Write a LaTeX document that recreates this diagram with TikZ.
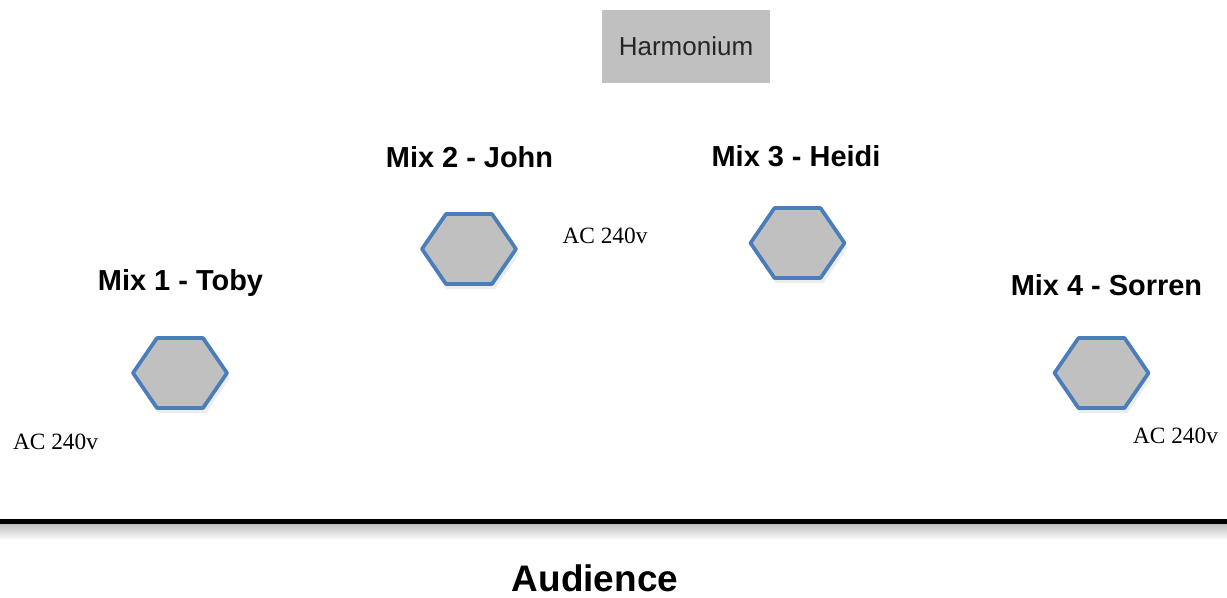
\documentclass[tikz,border=0pt]{standalone}
\usepackage{fontspec}
\setmainfont{Liberation Serif}
\setsansfont{Liberation Sans}
\usetikzlibrary{calc}
\definecolor{boxgray}{HTML}{C0C0C0}
\definecolor{hexblue}{HTML}{4A7EBB}
\tikzset{
  mixlabel/.style={font=\sffamily\bfseries\fontsize{21.7}{26}\selectfont, inner sep=0pt, anchor=base},
  aclabel/.style={font=\rmfamily\fontsize{17.5}{21}\selectfont, inner sep=0pt, anchor=base},
  hexa/.pic={
    \fill[black, opacity=0.07] (-46,5) -- (-22,-30) -- (26,-30) -- (50,5) -- (26,40) -- (-22,40) -- cycle;
    \draw[hexblue, fill=boxgray, line width=2.8pt, line join=round]
      (-47,0) -- (-23,-35) -- (23,-35) -- (47,0) -- (23,35) -- (-23,35) -- cycle;
  }
}
\begin{document}
\begin{tikzpicture}[x=0.75pt, y=-0.75pt]
\useasboundingbox (0,0) rectangle (1227,598);
% harmonium
\node[fill=boxgray, minimum width=168*0.75pt, minimum height=73*0.75pt, inner sep=0pt] (harm) at (686,46.5) {};
\node[font=\sffamily\fontsize{19.5}{23}\selectfont, text=black!85, inner sep=0pt, anchor=base] (harmtext) at (686,56) {Harmonium};
% hexagons
\pic (hexA) at (180,373) {hexa};
\pic (hexB) at (469,249) {hexa};
\pic (hexC) at (797.5,243) {hexa};
\pic (hexD) at (1101.5,373) {hexa};
% labels
\node[mixlabel] (m1) at (180.5,291) {Mix 1 - Toby};
\node[mixlabel] (m2) at (469.5,168) {Mix 2 - John};
\node[mixlabel] (m3) at (796,167) {Mix 3 - Heidi};
\node[mixlabel] (m4) at (1106.5,296) {Mix 4 - Sorren};
\node[aclabel] (ac1) at (55.5,449) {AC 240v};
\node[aclabel] (ac2) at (605,244) {AC 240v};
\node[aclabel] (ac3) at (1175.5,443) {AC 240v};
% stage line
\shade[top color=black!25, bottom color=white] (0,524) rectangle (1227,540);
\coordinate (lineL) at (0,521.5);
\coordinate (lineR) at (1227,521.5);
\draw[line width=3.8pt] (lineL) -- (lineR);
\node[font=\sffamily\bfseries\fontsize{27.7}{33}\selectfont, inner sep=0pt, anchor=base] (aud) at (595,591) {Audience};
\end{tikzpicture}
\end{document}
